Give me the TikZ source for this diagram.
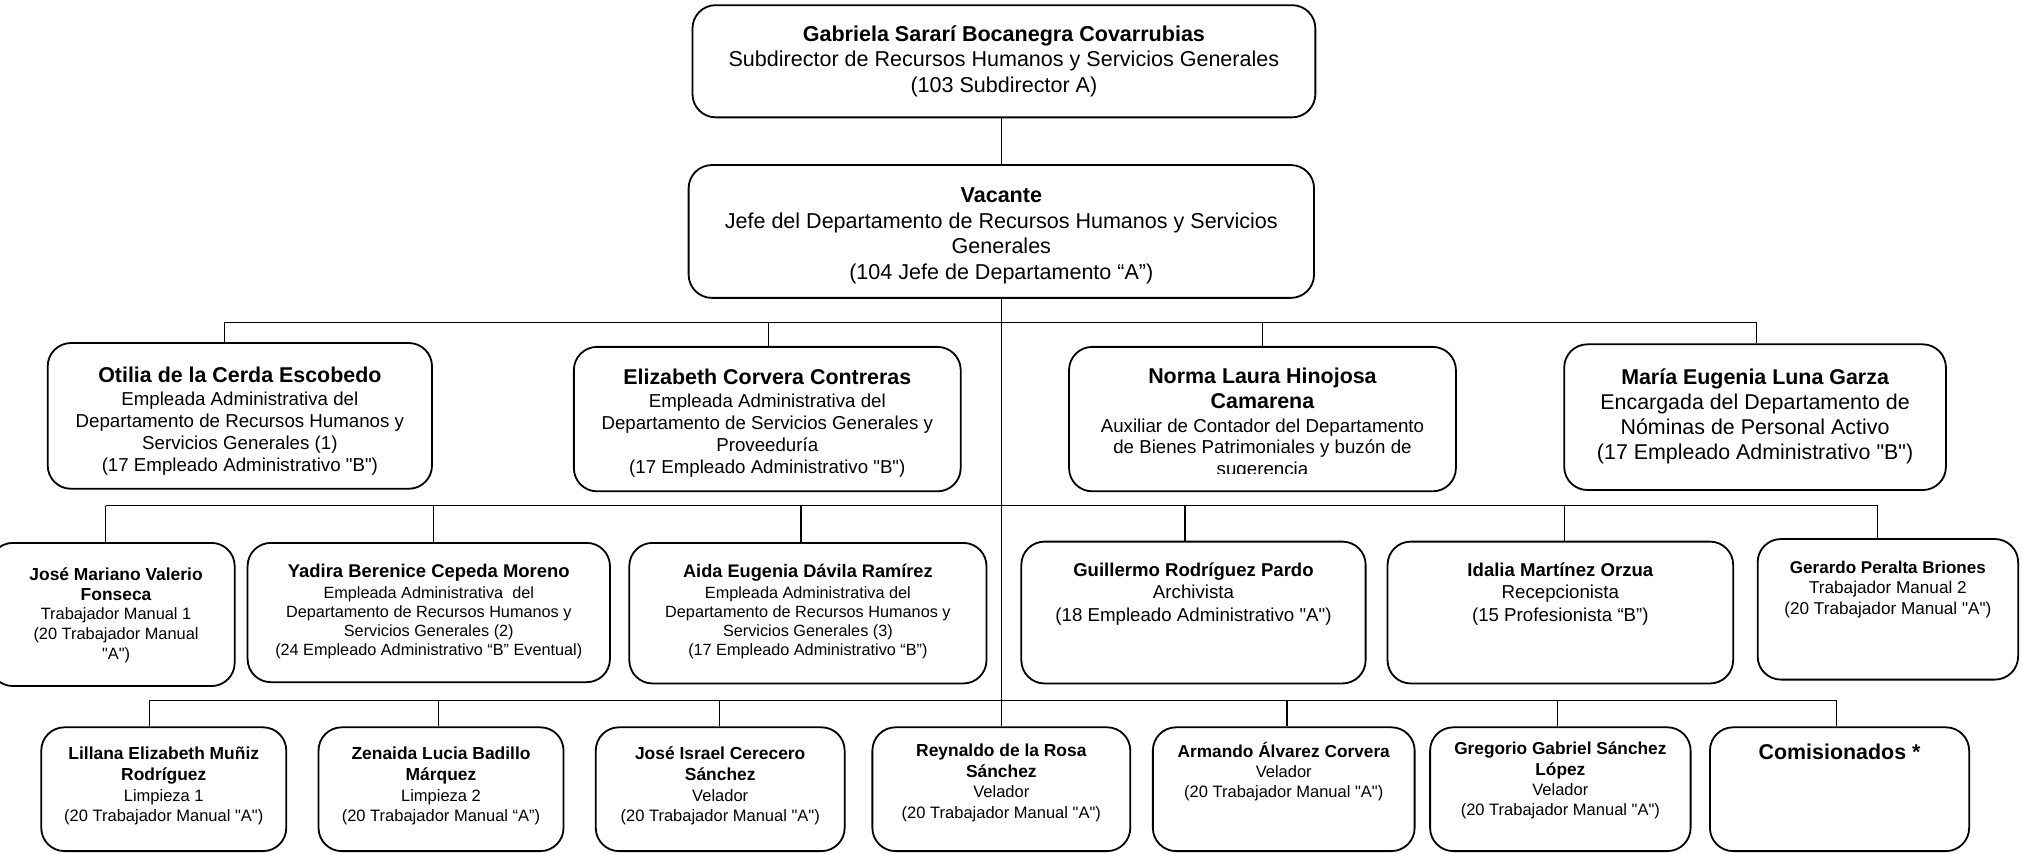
\documentclass[tikz,border=0pt]{standalone}
\usepackage{fontspec}
\setmainfont{Liberation Sans}[Ligatures=TeXOff]
\newcommand{\myfs}[2]{\fontsize{#1}{#2}\selectfont}
\newcommand{\nm}[2]{{\bfseries\fontsize{#1}{#1}\selectfont #2}}
\tikzset{
  box/.style={draw, line width=1.4pt, rounded corners=18pt, inner sep=0pt, fill=white},
  txt/.style={anchor=north, inner sep=0pt, align=center},
  conn/.style={line width=1.1pt},
}
\begin{document}
\begin{tikzpicture}[x=1pt,y=-1pt]
\useasboundingbox (0,0) rectangle (1568,661.5);
% ---------- connectors ----------
\coordinate (b2L) at (174,250);  \coordinate (b2R) at (1362,250);
\coordinate (b3L) at (82,392);   \coordinate (b3R) at (1456,392);
\coordinate (b4L) at (116,543);  \coordinate (b4R) at (1424,543);
\coordinate (j2e) at (596,250);  \coordinate (j2n) at (979,250);
\coordinate (j3y) at (336,392);  \coordinate (j3a) at (621,392);
\coordinate (j3g) at (919,392);  \coordinate (j3i) at (1213,392);
\coordinate (j4z) at (340,543);  \coordinate (j4j) at (558,543);
\coordinate (j4a) at (998,543);  \coordinate (j4g) at (1208,543);
% ---------- boxes ----------
\node[box, minimum width=483pt, minimum height=87pt]  (gab)    at (778.5,47.5) {};
\node[box, minimum width=485pt, minimum height=103pt] (vac)    at (776.5,179.5) {};
\node[box, minimum width=298pt, minimum height=113pt] (otilia) at (186,322.5) {};
\node[box, minimum width=300pt, minimum height=112pt] (eliz)   at (595,325) {};
\node[box, minimum width=300pt, minimum height=112pt] (norma)  at (979,325) {};
\node[box, minimum width=296pt, minimum height=113pt] (maria)  at (1361,323.5) {};
\node[box, minimum width=190pt, minimum height=111pt] (jose)   at (87,476.5) {};
\node[box, minimum width=281pt, minimum height=108pt] (yadira) at (332.5,475) {};
\node[box, minimum width=277pt, minimum height=109pt] (aida)   at (626.5,475.5) {};
\node[box, minimum width=267pt, minimum height=110pt] (guill)  at (925.5,475) {};
\node[box, minimum width=268pt, minimum height=110pt] (idalia) at (1210,475) {};
\node[box, minimum width=202pt, minimum height=109pt] (gerardo) at (1464,472.5) {};
\node[box, minimum width=190pt, minimum height=96pt]  (lil)    at (127,612) {};
\node[box, minimum width=190pt, minimum height=96pt]  (zen)    at (342,612) {};
\node[box, minimum width=193pt, minimum height=96pt]  (jisr)   at (558.5,612) {};
\node[box, minimum width=200pt, minimum height=96pt]  (rey)    at (776.5,612) {};
\node[box, minimum width=203pt, minimum height=96pt]  (arm)    at (995.5,612) {};
\node[box, minimum width=202pt, minimum height=96pt]  (greg)   at (1210,612) {};
\node[box, minimum width=201pt, minimum height=96pt]  (com)    at (1426.5,612) {};
% ---------- lines ----------
\draw[conn] (vac.north) -- (vac.north |- gab.south);
\draw[conn] (vac.south) -- (rey.north);
\draw[conn] (b2L) -- (b2R);
\draw[conn] (b2L) -- (b2L |- otilia.north);
\draw[conn] (j2e) -- (j2e |- eliz.north);
\draw[conn] (j2n) -- (j2n |- norma.north);
\draw[conn] (b2R) -- (b2R |- maria.north);
\draw[conn] (b3L) -- (b3R);
\draw[conn] (b3L) -- (b3L |- jose.north);
\draw[conn] (j3y) -- (j3y |- yadira.north);
\draw[conn] (j3a) -- (j3a |- aida.north);
\draw[conn] (j3g) -- (j3g |- guill.north);
\draw[conn] (j3i) -- (j3i |- idalia.north);
\draw[conn] (b3R) -- (b3R |- gerardo.north);
\draw[conn] (b4L) -- (b4R);
\draw[conn] (b4L) -- (b4L |- lil.north);
\draw[conn] (j4z) -- (j4z |- zen.north);
\draw[conn] (j4j) -- (j4j |- jisr.north);
\draw[conn] (j4a) -- (j4a |- arm.north);
\draw[conn] (j4g) -- (j4g |- greg.north);
\draw[conn] (b4R) -- (b4R |- com.north);
% ---------- texts ----------
\node[txt, font=\myfs{16.7}{19.7}] (gabT) at (778.5,18.2) {\begin{tabular}{@{}c@{}}\nm{16.7}{Gabriela Sararí Bocanegra Covarrubias}\\ Subdirector de Recursos Humanos y Servicios Generales\\ (103 Subdirector A)\end{tabular}};
\node[txt, font=\myfs{16.7}{19.8}] (vacT) at (776.5,143.1) {\begin{tabular}{@{}c@{}}\nm{16.7}{Vacante}\\ Jefe del Departamento de Recursos Humanos y Servicios\\ Generales\\ (104 Jefe de Departamento “A”)\end{tabular}};
\node[txt, font=\myfs{14.5}{17}] (otiliaT) at (186,284.1) {\begin{tabular}{@{}c@{}}\nm{16.6}{Otilia de la Cerda Escobedo}\\[1.5pt] Empleada Administrativa del\\ Departamento de Recursos Humanos y\\ Servicios Generales (1)\\ (17 Empleado Administrativo "B")\end{tabular}};
\node[txt, font=\myfs{14.5}{17}] (elizT) at (595,286.1) {\begin{tabular}{@{}c@{}}\nm{16.6}{Elizabeth Corvera Contreras}\\[1pt] Empleada Administrativa del\\ Departamento de Servicios Generales y\\ Proveeduría\\ (17 Empleado Administrativo "B")\end{tabular}};
\begin{scope}
\clip (829,260) rectangle (1129,367);
\node[txt, font=\myfs{14.5}{16.6}] (normaT) at (979,285.5) {\begin{tabular}{@{}c@{}}\nm{16.6}{Norma Laura Hinojosa}\\[2.5pt] \nm{16.6}{Camarena}\\[2pt] Auxiliar de Contador del Departamento\\ de Bienes Patrimoniales y buzón de\\ sugerencia\end{tabular}};
\end{scope}
\node[txt, font=\myfs{16.6}{19.4}] (mariaT) at (1361,284.4) {\begin{tabular}{@{}c@{}}\nm{16.6}{María Eugenia Luna Garza}\\ Encargada del Departamento de\\ Nóminas de Personal Activo\\ (17 Empleado Administrativo "B")\end{tabular}};
\node[txt, font=\myfs{12.7}{15.4}] (joseT) at (90,439) {\begin{tabular}{@{}c@{}}\nm{13.5}{José Mariano Valerio}\\ \nm{13.5}{Fonseca}\\ Trabajador Manual 1\\ (20 Trabajador Manual\\ "A")\end{tabular}};
\node[txt, font=\myfs{12.6}{14.6}] (yadiraT) at (332.5,436.9) {\begin{tabular}{@{}c@{}}\nm{14.3}{Yadira Berenice Cepeda Moreno}\\[2.4pt] Empleada Administrativa\ \ del\\ Departamento de Recursos Humanos y\\ Servicios Generales (2)\\ (24 Empleado Administrativo “B” Eventual)\end{tabular}};
\node[txt, font=\myfs{12.6}{14.6}] (aidaT) at (626.5,436.9) {\begin{tabular}{@{}c@{}}\nm{14.1}{Aida Eugenia Dávila Ramírez}\\[2.4pt] Empleada Administrativa del\\ Departamento de Recursos Humanos y\\ Servicios Generales (3)\\ (17 Empleado Administrativo “B”)\end{tabular}};
\node[txt, font=\myfs{14.5}{17.5}] (guillT) at (925.5,434.4) {\begin{tabular}{@{}c@{}}\nm{14.4}{Guillermo Rodríguez Pardo}\\ Archivista\\ (18 Empleado Administrativo "A")\end{tabular}};
\node[txt, font=\myfs{14.5}{17.5}] (idaliaT) at (1210,434.4) {\begin{tabular}{@{}c@{}}\nm{14.4}{Idalia Martínez Orzua}\\ Recepcionista\\ (15 Profesionista “B”)\end{tabular}};
\node[txt, font=\myfs{13.3}{16}] (gerardoT) at (1464,433) {\begin{tabular}{@{}c@{}}\nm{13.2}{Gerardo Peralta Briones}\\ Trabajador Manual 2\\ (20 Trabajador Manual "A")\end{tabular}};
\node[txt, font=\myfs{12.8}{16}] (lilT) at (127,577.9) {\begin{tabular}{@{}c@{}}\nm{13.5}{Lillana Elizabeth Muñiz}\\ \nm{13.5}{Rodríguez}\\ Limpieza 1\\ (20 Trabajador Manual "A")\end{tabular}};
\node[txt, font=\myfs{12.8}{16}] (zenT) at (342,577.9) {\begin{tabular}{@{}c@{}}\nm{13.5}{Zenaida Lucia Badillo}\\ \nm{13.5}{Márquez}\\ Limpieza 2\\ (20 Trabajador Manual “A”)\end{tabular}};
\node[txt, font=\myfs{12.8}{16}] (jisrT) at (558.5,577.9) {\begin{tabular}{@{}c@{}}\nm{13.5}{José Israel Cerecero}\\ \nm{13.5}{Sánchez}\\ Velador\\ (20 Trabajador Manual "A")\end{tabular}};
\node[txt, font=\myfs{12.8}{15.8}] (reyT) at (776.5,575.7) {\begin{tabular}{@{}c@{}}\nm{13.5}{Reynaldo de la Rosa}\\ \nm{13.5}{Sánchez}\\ Velador\\ (20 Trabajador Manual "A")\end{tabular}};
\node[txt, font=\myfs{12.8}{15.3}] (armT) at (995.5,575.7) {\begin{tabular}{@{}c@{}}\nm{13.4}{Armando Álvarez Corvera}\\ Velador\\ (20 Trabajador Manual "A")\end{tabular}};
\node[txt, font=\myfs{12.8}{15.6}] (gregT) at (1210,574.3) {\begin{tabular}{@{}c@{}}\nm{13.4}{Gregorio Gabriel Sánchez}\\ \nm{13.4}{López}\\ Velador\\ (20 Trabajador Manual "A")\end{tabular}};
\node[txt, font=\myfs{16.6}{19}] (comT) at (1426.5,575.7) {\begin{tabular}{@{}c@{}}\nm{16.6}{Comisionados *}\end{tabular}};
\end{tikzpicture}
\end{document}
